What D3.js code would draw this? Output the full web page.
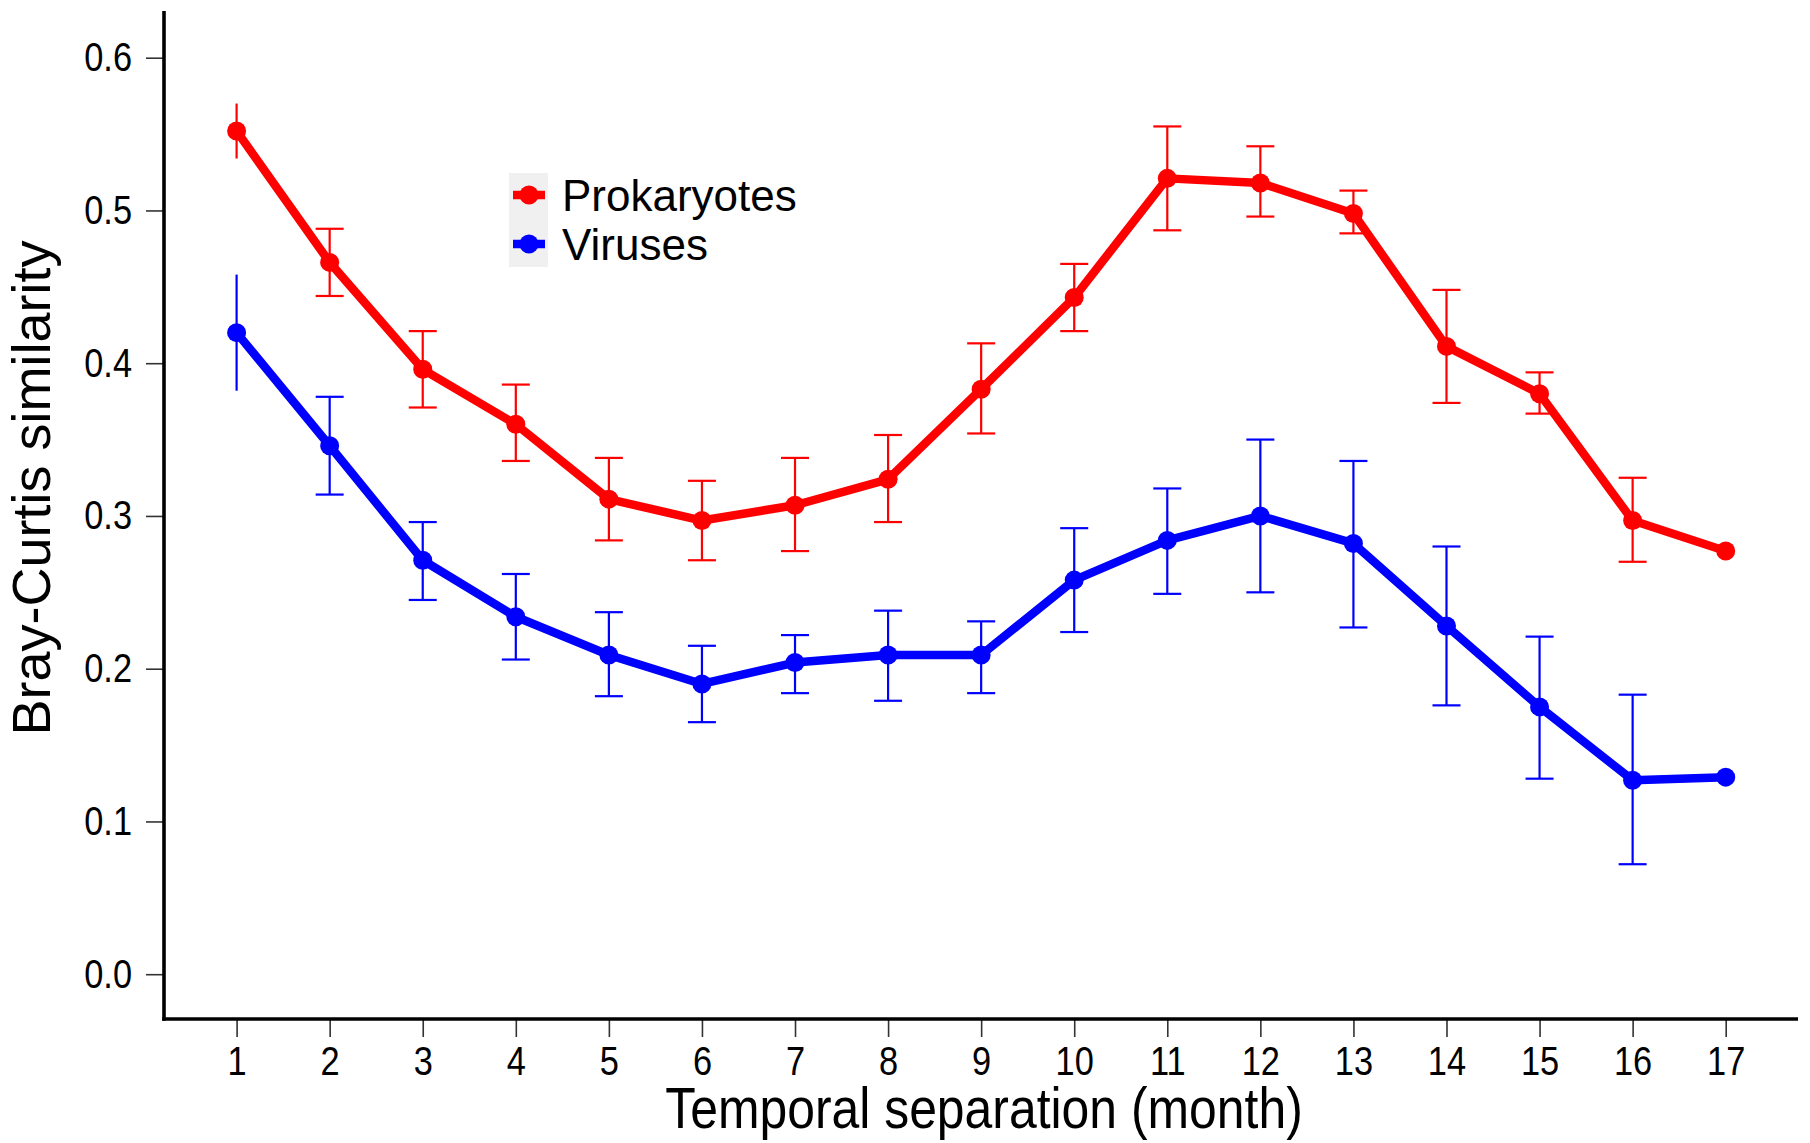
<!DOCTYPE html>
<html lang="en">
<head>
  <meta charset="utf-8">
  <title>Bray-Curtis similarity vs temporal separation</title>
  <script src="https://d3js.org/d3.v7.min.js" charset="utf-8"></script>
  <style>
    body { margin: 0; background: white; }
    text { font-family: "Liberation Sans", Arial, sans-serif; }
  </style>
</head>
<body>
  <svg id="chart" width="1810" height="1143"></svg>

<script type="text/javascript">
  // months 1..17
  var months = [1, 2, 3, 4, 5, 6, 7, 8, 9, 10, 11, 12, 13, 14, 15, 16, 17];

  // Prokaryotes: mean, upper, lower
  var prokMean  = [0.552, 0.466, 0.396, 0.360, 0.311, 0.297, 0.307, 0.324, 0.383, 0.443, 0.521, 0.518, 0.498, 0.411, 0.380, 0.297, 0.277];
  var prokUpper = [0.570, 0.488, 0.421, 0.386, 0.338, 0.323, 0.338, 0.353, 0.413, 0.465, 0.555, 0.542, 0.513, 0.448, 0.394, 0.325, null];
  var prokLower = [0.534, 0.444, 0.371, 0.336, 0.284, 0.271, 0.277, 0.296, 0.354, 0.421, 0.487, 0.496, 0.485, 0.374, 0.367, 0.270, null];

  // Viruses: mean, upper, lower
  var virMean  = [0.420, 0.346, 0.271, 0.234, 0.209, 0.190, 0.204, 0.209, 0.209, 0.258, 0.284, 0.300, 0.282, 0.228, 0.175, 0.127, 0.129];
  var virUpper = [0.458, 0.378, 0.296, 0.262, 0.237, 0.215, 0.222, 0.238, 0.231, 0.292, 0.318, 0.350, 0.336, 0.280, 0.221, 0.183, null];
  var virLower = [0.382, 0.314, 0.245, 0.206, 0.182, 0.165, 0.184, 0.179, 0.184, 0.224, 0.249, 0.250, 0.227, 0.176, 0.128, 0.072, null];

  var yTicks = [0.0, 0.1, 0.2, 0.3, 0.4, 0.5, 0.6];
  var seriesNames = ["Prokaryotes", "Viruses"];
  var seriesColors = ["#ff0000", "#0000ff"];

  var svg = d3.select("#chart");

  var xScale = d3.scaleLinear().domain([1, 17]).range([236.6, 1725.7]),
      yScale = d3.scaleLinear().domain([0, 0.6]).range([974.2, 57.7]);

  var axisX = 164, axisY = 1019;
  var squeeze = 0.86;   // no narrow font installed, so squeeze horizontally

  // y axis
  var gy = svg.append("g")
    .attr("transform", "translate(" + axisX + ",0)")
    .call(d3.axisLeft(yScale).tickValues(yTicks).tickFormat(d3.format(".1f"))
      .tickSizeInner(18).tickSizeOuter(0).tickPadding(14));
  gy.select(".domain").remove();
  gy.selectAll(".tick line").attr("stroke", "#333").attr("stroke-width", 1.6);
  gy.selectAll(".tick text")
    .attr("font-family", null)
    .attr("font-size", "40px")
    .attr("fill", "black")
    .attr("x", -32 / squeeze)
    .attr("transform", "scale(" + squeeze + ",1)");

  // x axis
  var gx = svg.append("g")
    .attr("transform", "translate(0," + axisY + ")")
    .call(d3.axisBottom(xScale).tickValues(months).tickFormat(d3.format("d"))
      .tickSizeInner(18).tickSizeOuter(0).tickPadding(10));
  gx.select(".domain").remove();
  gx.selectAll(".tick line").attr("stroke", "#333").attr("stroke-width", 1.6);
  gx.selectAll(".tick text")
    .attr("font-family", null)
    .attr("font-size", "40px")
    .attr("fill", "black")
    .attr("transform", "scale(" + squeeze + ",1)");

  // axis lines
  svg.append("line")
    .attr("x1", axisX).attr("x2", axisX)
    .attr("y1", 11).attr("y2", axisY + 1.8)
    .attr("stroke", "black").attr("stroke-width", 3.6);
  svg.append("line")
    .attr("x1", axisX - 1.8).attr("x2", 1798)
    .attr("y1", axisY).attr("y2", axisY)
    .attr("stroke", "black").attr("stroke-width", 3.6);

  // axis titles
  svg.append("text")
    .attr("transform", "translate(984,1128) scale(" + squeeze + ",1)")
    .attr("text-anchor", "middle")
    .attr("font-size", "58px")
    .text("Temporal separation (month)");

  svg.append("text")
    .attr("transform", "translate(50,488) rotate(-90)")
    .attr("text-anchor", "middle")
    .attr("font-size", "54px")
    .text("Bray-Curtis similarity");

  function buildSeries(mean, upper, lower) {
    return months.map(function(m, i) {
      return { month: m, mean: mean[i], upper: upper[i], lower: lower[i] };
    });
  }

  var series = [
    buildSeries(prokMean, prokUpper, prokLower),
    buildSeries(virMean, virUpper, virLower)
  ];

  var line = d3.line()
    .x(function(d) { return xScale(d.month); })
    .y(function(d) { return yScale(d.mean); });

  var capHalf = 14;

  series.forEach(function(data, s) {
    var color = seriesColors[s];
    var g = svg.append("g");
    var withErr = data.filter(function(d) { return d.upper !== null; });

    // error bars
    g.selectAll(".err")
      .data(withErr)
      .enter().append("line")
      .attr("x1", function(d) { return xScale(d.month); })
      .attr("x2", function(d) { return xScale(d.month); })
      .attr("y1", function(d) { return yScale(d.upper); })
      .attr("y2", function(d) { return yScale(d.lower); })
      .attr("stroke", color).attr("stroke-width", 2.2);

    // first month has no caps in the original
    var capped = withErr.filter(function(d) { return d.month > 1; });
    ["upper", "lower"].forEach(function(k) {
      g.selectAll(".cap-" + k)
        .data(capped)
        .enter().append("line")
        .attr("x1", function(d) { return xScale(d.month) - capHalf; })
        .attr("x2", function(d) { return xScale(d.month) + capHalf; })
        .attr("y1", function(d) { return yScale(d[k]); })
        .attr("y2", function(d) { return yScale(d[k]); })
        .attr("stroke", color).attr("stroke-width", 2.2);
    });

    g.append("path")
      .datum(data)
      .attr("d", line)
      .attr("fill", "none")
      .attr("stroke", color)
      .attr("stroke-width", 8.5)
      .attr("stroke-linejoin", "round");

    g.selectAll(".pt")
      .data(data)
      .enter().append("circle")
      .attr("cx", function(d) { return xScale(d.month); })
      .attr("cy", function(d) { return yScale(d.mean); })
      .attr("r", 9.5)
      .attr("fill", color);
  });

  // legend
  var legend = svg.append("g");
  legend.append("rect")
    .attr("x", 509).attr("y", 173)
    .attr("width", 39).attr("height", 94)
    .attr("fill", "#f0f0f0");

  seriesNames.forEach(function(name, i) {
    var cy = 195 + i * 49;
    legend.append("line")
      .attr("x1", 513).attr("x2", 545)
      .attr("y1", cy).attr("y2", cy)
      .attr("stroke", seriesColors[i]).attr("stroke-width", 8.5);
    legend.append("circle")
      .attr("cx", 529).attr("cy", cy).attr("r", 9.5)
      .attr("fill", seriesColors[i]);
    legend.append("text")
      .attr("x", 562)
      .attr("y", cy + 16)
      .attr("font-size", "44px")
      .text(name);
  });
</script>
</body>
</html>
